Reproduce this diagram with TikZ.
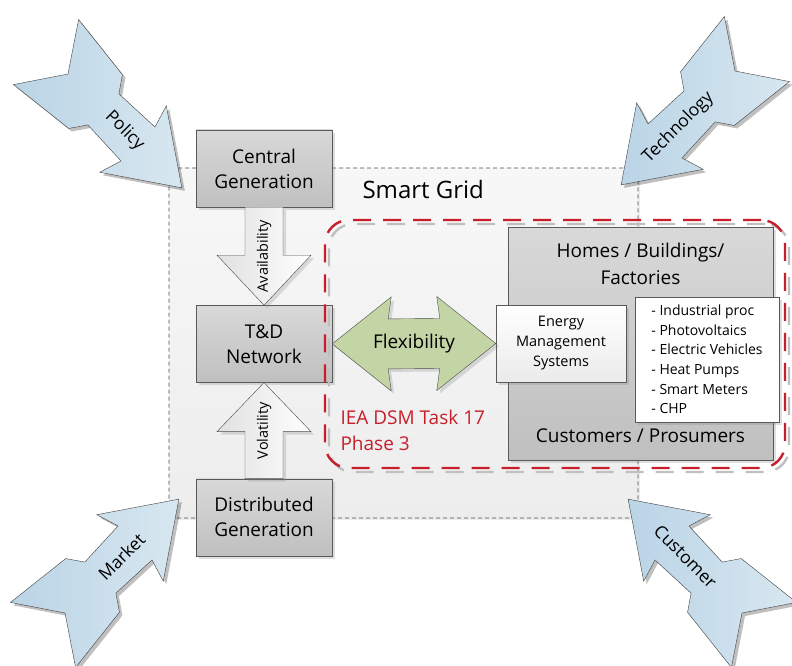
\documentclass[tikz,border=0pt]{standalone}
\usepackage{fontspec}
\setmainfont{Open Sans}
\usetikzlibrary{positioning, shadows, calc}
\definecolor{taskred}{HTML}{C81E2B}
\definecolor{forcedark}{HTML}{BAD4E6}
\definecolor{forcelight}{HTML}{D8E7F0}
\definecolor{flexgreen}{HTML}{C3D5A5}
\tikzset{
	x=1pt, y=-1pt,
	softshadow/.style={drop shadow={shadow xshift=3pt, shadow yshift=-3pt, opacity=.25}},
	gridbox/.style={draw=black!65, top color=black!15, bottom color=black!25, minimum width=136pt, minimum height=77pt, align=center, font=\fontsize{19}{25}\selectfont, softshadow},
	homebox/.style={gridbox, minimum width=265pt, minimum height=233pt},
	emsbox/.style={draw=black!65, top color=white, bottom color=black!8, minimum width=130pt, minimum height=77pt, align=center, font=\fontsize{14.5}{20}\selectfont, softshadow},
	listbox/.style={draw=black!65, fill=white, minimum width=144pt, minimum height=125pt, align=left, font=\fontsize{14}{19.6}\selectfont, softshadow},
	gridarea/.style={draw=black!70, dash pattern=on 4pt off 3pt, line width=.6pt, rounded corners=8pt, top color=black!3, bottom color=black!7, minimum width=469pt, minimum height=350pt, drop shadow={shadow xshift=2pt, shadow yshift=-2pt, opacity=.15}},
	taskframe/.style={draw=taskred, line width=2.4pt, dash pattern=on 18pt off 12pt, rounded corners=24pt, minimum width=460pt, minimum height=248pt},
	iealabel/.style={anchor=west, align=left, text=taskred, font=\fontsize{19}{26}\selectfont},
	hollow/.style={draw=black!70, left color=black!12, right color=white, softshadow},
	flex/.style={draw=black!70, fill=flexgreen, softshadow},
	vlabel/.style={rotate=90, font=\fontsize{14.5}{17}\selectfont},
	pics/force/.style 2 args={code={
		\path[draw=black!75, left color=forcedark, right color=forcelight, preaction={fill=black, opacity=.25, transform canvas={shift={(3pt,-3pt)}}}]
			(161,0) -- (92,-47) -- (99,-24) -- (50,-22) -- (39,-38) -- (-31,-46) -- (0,0)
			-- (-31,46) -- (39,38) -- (50,22) -- (99,24) -- (92,47) -- cycle;
		\node[rotate=#2, font=\fontsize{17.5}{20}\selectfont] (-lbl) at (80,0) {#1};
	}}
}

\begin{document}
\begin{tikzpicture}
	\useasboundingbox (0,0) rectangle (792,666);
	\clip (0,0) rectangle (792,666);

	\node[gridarea] (sg) at (403.5,343) {};
	\node[anchor=west, font=\fontsize{24}{28}\selectfont] (sglbl) at (359,189) {Smart Grid};

	\node[gridbox] (cg) at (264,168.5) {Central\\Generation};
	\node[gridbox, below=98pt of cg] (td) {T\&D\\Network};
	\node[gridbox, below=96pt of td] (dg) {Distributed\\Generation};

	\node[homebox] (homes) at (640.5,343.5) {};
	\node[anchor=north, font=\fontsize{19}{27}\selectfont, align=center] (homestitle) at ($(homes.north)+(0,13)$) {Homes / Buildings/\\Factories};
	\node[anchor=south, font=\fontsize{19}{25}\selectfont] (homessub) at ($(homes.south)+(0,-14)$) {Customers / Prosumers};
	\node[emsbox] (ems) at (561,343.5) {Energy\\Management\\Systems};
	\node[listbox] (kinds) at (707,359.5) {- Industrial proc\\- Photovoltaics\\- Electric Vehicles\\- Heat Pumps\\- Smart Meters\\- CHP};

	\node[taskframe, draw=black!25] (taskshadow) at (559,348) {};
	\node[taskframe] (task) at (555,344) {};
	\node[iealabel] (iea) at (337,430) {IEA DSM Task 17\\Phase 3};

	\draw[hollow] ($(cg.south)+(-19,0)$) -- ($(td.north)+(-19,-50)$) -- ($(td.north)+(-47,-50)$) -- (td.north)
		-- ($(td.north)+(47,-50)$) -- ($(td.north)+(19,-50)$) -- ($(cg.south)+(19,0)$) -- cycle;
	\node[vlabel] (availlbl) at ($(cg.south)!.5!(td.north)$) {Availability};
	\draw[hollow] ($(dg.north)+(-19,0)$) -- ($(td.south)+(-19,49)$) -- ($(td.south)+(-47,49)$) -- (td.south)
		-- ($(td.south)+(47,49)$) -- ($(td.south)+(19,49)$) -- ($(dg.north)+(19,0)$) -- cycle;
	\node[vlabel] (volatlbl) at ($(dg.north)!.5!(td.south)$) {Volatility};

	\draw[flex] (td.east) -- ($(td.east)+(59,-47)$) -- ($(td.east)+(56,-25)$) -- ($(ems.west)+(-56,-25)$) -- ($(ems.west)+(-59,-47)$) -- (ems.west)
		-- ($(ems.west)+(-59,47)$) -- ($(ems.west)+(-56,25)$) -- ($(td.east)+(56,25)$) -- ($(td.east)+(59,47)$) -- cycle;
	\node[font=\fontsize{19}{22}\selectfont] (flexlbl) at ($(td.east)!.5!(ems.west)$) {Flexibility};

	\pic[rotate=-45] (policy) at (68,74) {force={Policy}{-45}};
	\pic[rotate=225] (techno) at (735,71) {force={Technology}{45}};
	\pic[rotate=45] (market) at (65,613) {force={Market}{45}};
	\pic[rotate=135] (custom) at (742,613) {force={Customer}{-45}};
\end{tikzpicture}
\end{document}
